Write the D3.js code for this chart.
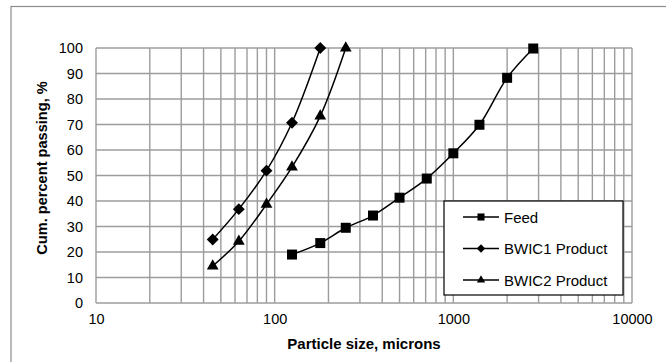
<!DOCTYPE html>
<html>
<head>
<meta charset="utf-8">
<script src="https://cdn.jsdelivr.net/npm/d3@7"></script>
<style>
  html, body { margin: 0; padding: 0; background: #fff; }
  svg { display: block; font-family: "Liberation Sans", Arial, sans-serif; }
</style>
</head>
<body>
<svg id="chart" width="666" height="362"></svg>
<script>
// Particle size distributions (size in microns, cumulative % passing)
const feedSizes   = [125, 180, 250, 355, 500, 710, 1000, 1400, 2000, 2800];
const feedPassing = [19, 23.5, 29.5, 34.3, 41.3, 48.8, 58.7, 69.9, 88.3, 99.8];

const bwic1Sizes   = [45, 63, 90, 125, 180];
const bwic1Passing = [24.9, 36.8, 51.9, 70.7, 100];

const bwic2Sizes   = [45, 63, 90, 125, 180, 250];
const bwic2Passing = [14.5, 24.2, 38.7, 53.3, 73.3, 100];

const seriesNames = ["Feed", "BWIC1 Product", "BWIC2 Product"];
const yTicks = [0, 10, 20, 30, 40, 50, 60, 70, 80, 90, 100];
const xTicks = [10, 100, 1000, 10000];

const series = [
  { name: seriesNames[0], x: feedSizes,  y: feedPassing,  symbol: d3.symbolSquare,   area: 100 },
  { name: seriesNames[1], x: bwic1Sizes, y: bwic1Passing, symbol: d3.symbolDiamond2, area: 90 },
  { name: seriesNames[2], x: bwic2Sizes, y: bwic2Passing, symbol: d3.symbolTriangle, area: 60 }
];

const svg = d3.select("#chart");
const plot = { left: 96, right: 632, top: 48, bottom: 303 };

// outer chart frame
svg.append("rect")
  .attr("x", 11).attr("y", 6.5).attr("width", 700).attr("height", 400)
  .attr("fill", "none").attr("stroke", "#8c8c8c").attr("stroke-width", 1.2);

const x = d3.scaleLog().domain([10, 10000]).range([plot.left, plot.right]);
const y = d3.scaleLinear().domain([0, 100]).range([plot.bottom, plot.top]);

const gridColor = "#9c9c9c";

// vertical grid: every 1..9 within each decade
const minorX = [];
for (let d = 10; d < 10000; d *= 10) {
  for (let k = 1; k <= 9; k++) minorX.push(d * k);
}
minorX.push(10000);

const grid = svg.append("g");
grid.selectAll("line.vx").data(minorX).join("line")
  .attr("x1", d => x(d)).attr("x2", d => x(d))
  .attr("y1", plot.top).attr("y2", plot.bottom)
  .attr("stroke", gridColor).attr("stroke-width", 1.4);
grid.selectAll("line.hy").data(yTicks).join("line")
  .attr("x1", plot.left).attr("x2", plot.right)
  .attr("y1", d => y(d)).attr("y2", d => y(d))
  .attr("stroke", gridColor).attr("stroke-width", 1.4);

// axes (labels only; grid provides the lines)
const yAxis = svg.append("g")
  .attr("transform", `translate(${plot.left},0)`)
  .call(d3.axisLeft(y).tickValues(yTicks).tickSize(0).tickPadding(13));
yAxis.select(".domain").remove();
yAxis.selectAll("text").attr("font-size", 14.5).attr("fill", "#000")
  .attr("font-family", "Liberation Sans, Arial, sans-serif");

const xAxis = svg.append("g")
  .attr("transform", `translate(0,${plot.bottom})`)
  .call(d3.axisBottom(x).tickValues(xTicks).tickFormat(d3.format("d")).tickSize(0).tickPadding(11));
xAxis.select(".domain").remove();
xAxis.selectAll("text").attr("font-size", 14.5).attr("fill", "#000")
  .attr("font-family", "Liberation Sans, Arial, sans-serif");

// axis titles
svg.append("text")
  .attr("x", 364).attr("y", 348.5)
  .attr("text-anchor", "middle")
  .attr("font-size", 15).attr("font-weight", "bold")
  .text("Particle size, microns");

svg.append("text")
  .attr("transform", "translate(47,168) rotate(-90)")
  .attr("text-anchor", "middle")
  .attr("font-size", 14.6).attr("font-weight", "bold")
  .text("Cum. percent passing, %");

// series lines and markers
const line = d3.line()
  .x(d => x(d[0])).y(d => y(d[1]))
  .curve(d3.curveCatmullRom.alpha(0.5));

series.forEach(s => {
  const pts = s.x.map((v, i) => [v, s.y[i]]);
  svg.append("path")
    .attr("d", line(pts))
    .attr("fill", "none").attr("stroke", "#000").attr("stroke-width", 1.5);
  svg.append("g").selectAll("path").data(pts).join("path")
    .attr("transform", d => `translate(${x(d[0])},${y(d[1])})`)
    .attr("d", d3.symbol().type(s.symbol).size(s.area))
    .attr("fill", "#000");
});

// legend
const legend = svg.append("g");
legend.append("rect")
  .attr("x", 444).attr("y", 201).attr("width", 179).attr("height", 94)
  .attr("fill", "#fff").attr("stroke", "#000").attr("stroke-width", 1.2);

const legendY = [217, 248.5, 280];
series.forEach((s, i) => {
  const g = legend.append("g").attr("transform", `translate(0,${legendY[i]})`);
  g.append("line").attr("x1", 463).attr("x2", 499).attr("y1", 0).attr("y2", 0)
    .attr("stroke", "#000").attr("stroke-width", 1.5);
  g.append("path")
    .attr("transform", "translate(481,0)")
    .attr("d", d3.symbol().type(s.symbol).size(s.area * 0.5))
    .attr("fill", "#000");
  g.append("text")
    .attr("x", 504).attr("y", 5.5)
    .attr("font-size", 15)
    .text(s.name);
});
</script>
</body>
</html>
